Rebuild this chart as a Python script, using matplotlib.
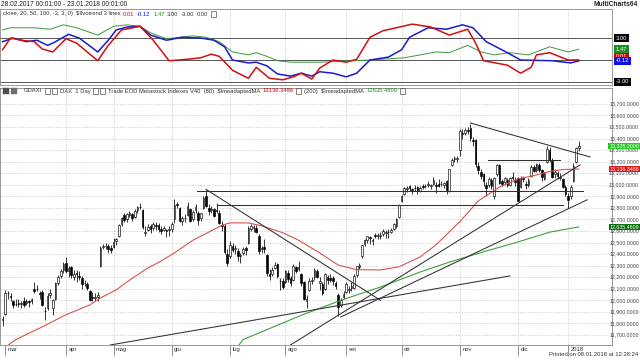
import matplotlib
matplotlib.use("Agg")
import matplotlib.pyplot as plt
import matplotlib.transforms as mtransforms
from matplotlib.patches import Rectangle

# ---------------- price data (daily bars, index 0 = 28.02.2017) ----------------
opens = [11830,
    11880, 12060, 12040, 11990, 11970, 11975, 11970, 11990, 11980, 11990, 11990, 12100,
    12100, 12060, 12070, 11910, 11930, 12050, 11930, 12010, 12150, 12210, 12260,
    12320, 12250, 12290, 12200, 12240, 12210, 12190, 12150, 12140, 12080, 12030, 12020,
    12030, 12300, 12460, 12470, 12470, 12450,
    12460, 12510, 12560, 12660, 12740, 12700, 12740, 12750, 12720, 12780, 12810, 12780,
    12580, 12610, 12640, 12630, 12650, 12650, 12620, 12610, 12610, 12610,
    12620, 12700, 12830, 12800, 12690, 12710, 12740, 12790, 12700, 12780, 12760, 12710,
    12800, 12900, 12800, 12780, 12790, 12780, 12760, 12650, 12640, 12400,
    12380, 12470, 12440, 12430, 12380, 12410, 12450, 12500, 12620, 12630, 12630, 12560,
    12440, 12460, 12390, 12230, 12230, 12280, 12310, 12170, 12170,
    12160, 12240, 12190, 12180, 12290, 12270, 12230, 12160, 11990, 12090, 12170, 12200,
    12250, 12150, 12140, 12100, 12200, 12190, 12190, 12150, 12050, 11960, 12030,
    12070, 12090, 12110, 12110, 12220, 12290, 12380, 12490, 12520, 12550, 12510, 12560,
    12560, 12560, 12570, 12580, 12590, 12590, 12620, 12640, 12720,
    12860, 12920, 12960, 12990, 12960, 12970, 12980, 12950, 12990, 12990, 13000, 12990,
    13010, 13000, 13010, 13010, 13000, 13030, 12950, 13170, 13220, 13220,
    13300, 13450, 13450, 13470, 13490, 13390, 13390, 13160, 13110, 13090, 13000, 13000,
    13040, 12900, 13090, 13170, 13030, 13020, 13040, 13000, 13070, 13040,
    13060, 12980, 13060, 13010, 13000, 13080, 13150, 13130, 13170, 13130, 13050, 13200,
    13300, 13210, 13090, 13100, 13060, 13050, 12980,
    12900, 12900, 13030, 13200, 13320]
highs = [11860,
    12090, 12080, 12060, 12000, 12010, 12010, 11990, 12030, 12010, 12000, 12020, 12160,
    12130, 12080, 12090, 11940, 12060, 12100, 12010, 12160, 12220, 12270, 12330,
    12375, 12300, 12300, 12260, 12260, 12250, 12210, 12180, 12160, 12090, 12070, 12060,
    12070, 12470, 12490, 12500, 12490, 12480,
    12540, 12540, 12660, 12720, 12760, 12760, 12770, 12760, 12790, 12820, 12841, 12790,
    12640, 12660, 12660, 12680, 12680, 12670, 12640, 12640, 12620, 12640,
    12680, 12880, 12850, 12810, 12730, 12750, 12850, 12800, 12780, 12830, 12770, 12760,
    12900, 12951, 12830, 12820, 12800, 12840, 12780, 12690, 12660, 12440,
    12510, 12500, 12480, 12450, 12410, 12460, 12470, 12640, 12660, 12650, 12650, 12570,
    12470, 12530, 12400, 12270, 12290, 12330, 12320, 12190, 12190,
    12260, 12260, 12210, 12310, 12300, 12340, 12240, 12170, 12050, 12190, 12200, 12280,
    12270, 12200, 12160, 12240, 12220, 12230, 12210, 12170, 12060, 12020, 12080,
    12160, 12120, 12160, 12230, 12300, 12320, 12480, 12530, 12560, 12560, 12540, 12580,
    12580, 12590, 12620, 12610, 12620, 12630, 12670, 12710, 12830,
    12910, 12980, 12990, 13000, 12970, 13000, 12990, 12990, 13010, 13010, 13030, 13010,
    13070, 13020, 13050, 13030, 13020, 13040, 13140, 13230, 13250, 13250,
    13480, 13480, 13490, 13500, 13526, 13410, 13400, 13200, 13140, 13100, 13020, 13070,
    13060, 13070, 13180, 13180, 13050, 13070, 13060, 13070, 13110, 13070,
    13070, 13080, 13080, 13030, 13060, 13170, 13170, 13190, 13190, 13140, 13110, 13340,
    13330, 13230, 13140, 13120, 13100, 13060, 13000,
    12930, 13000, 13190, 13330, 13380]
lows = [11780,
    11870, 12010, 11990, 11930, 11950, 11940, 11930, 11940, 11960, 11940, 11970, 12060,
    12080, 12010, 11950, 11830, 11920, 12020, 11870, 12000, 12130, 12190, 12240,
    12240, 12200, 12190, 12180, 12160, 12180, 12100, 12120, 12090, 11990, 11990, 11990,
    11990, 12290, 12440, 12440, 12410, 12410,
    12450, 12480, 12550, 12640, 12680, 12680, 12720, 12690, 12710, 12760, 12790, 12620,
    12560, 12600, 12580, 12610, 12610, 12590, 12570, 12600, 12550, 12560,
    12590, 12670, 12800, 12680, 12650, 12680, 12730, 12680, 12690, 12760, 12650, 12690,
    12790, 12810, 12740, 12760, 12720, 12760, 12660, 12600, 12400, 12300,
    12370, 12420, 12400, 12340, 12320, 12390, 12390, 12490, 12600, 12590, 12580, 12400,
    12410, 12410, 12210, 12180, 12210, 12270, 12190, 12090, 12100,
    12150, 12160, 12120, 12170, 12240, 12250, 12120, 12000, 11930, 12080, 12140, 12180,
    12190, 12090, 12050, 12090, 12140, 12160, 12130, 12100, 11868, 11940, 12010,
    12060, 12060, 12080, 12100, 12200, 12270, 12370, 12470, 12500, 12490, 12480, 12540,
    12530, 12530, 12560, 12540, 12540, 12580, 12610, 12630, 12710,
    12850, 12910, 12940, 12950, 12920, 12950, 12920, 12940, 12960, 12970, 12980, 12960,
    13000, 12930, 12980, 12990, 12970, 12920, 12940, 13160, 13200, 13200,
    13250, 13400, 13430, 13440, 13380, 13340, 13150, 13090, 13050, 12990, 12900, 12980,
    12960, 12880, 13080, 13010, 12990, 13000, 12980, 12990, 13040, 12990,
    12860, 12970, 13020, 12960, 12980, 13070, 13110, 13110, 13110, 13030, 13040, 13190,
    13200, 13060, 13060, 13050, 13040, 12970, 12900,
    12800, 12880, 13020, 13190, 13290]
closes = [11834,
    12067, 12060, 12027, 11958, 11967, 11967, 11978, 11963, 11990, 11988, 12009, 12083,
    12095, 12052, 11962, 11904, 12040, 12064, 12000, 12149, 12203, 12256, 12313,
    12257, 12282, 12217, 12230, 12225, 12200, 12139, 12154, 12109, 12000, 12017, 12027,
    12048, 12455, 12467, 12472, 12443, 12438,
    12507, 12527, 12648, 12716, 12694, 12749, 12757, 12711, 12770, 12807, 12804, 12631,
    12590, 12638, 12619, 12659, 12642, 12621, 12602, 12628, 12599, 12615,
    12664, 12822, 12822, 12690, 12713, 12714, 12815, 12690, 12765, 12806, 12691, 12752,
    12889, 12814, 12774, 12794, 12733, 12770, 12671, 12647, 12416, 12325,
    12475, 12437, 12453, 12381, 12389, 12445, 12437, 12626, 12641, 12632, 12587, 12430,
    12452, 12447, 12240, 12208, 12263, 12305, 12212, 12163, 12118,
    12251, 12181, 12154, 12297, 12257, 12292, 12154, 12014, 12014, 12165, 12177, 12263,
    12203, 12165, 12065, 12229, 12174, 12180, 12167, 12123, 11945, 12002, 12055,
    12142, 12102, 12123, 12214, 12296, 12303, 12475, 12524, 12553, 12540, 12518, 12559,
    12561, 12569, 12600, 12592, 12594, 12605, 12657, 12704, 12828,
    12902, 12970, 12970, 12968, 12955, 12976, 12949, 12970, 12982, 12991, 13003, 12995,
    13043, 12990, 12991, 13003, 13013, 12953, 13133, 13217, 13229, 13229,
    13465, 13440, 13478, 13468, 13406, 13382, 13182, 13127, 13074, 13033, 12976, 13047,
    12993, 13058, 13168, 13015, 13008, 13060, 13000, 13060, 13061, 13024,
    12861, 13058, 13048, 12999, 13045, 13154, 13123, 13183, 13126, 13068, 13103, 13312,
    13215, 13070, 13110, 13072, 13070, 12980, 12918,
    12871, 12979, 13167, 13319, 13335.2]

# moving averages (bar index, value)
ma_red_bars = [2, 5, 15, 24, 33, 37, 43, 49, 55, 60, 65, 72, 78, 83, 86, 93, 98, 106,
               112, 120, 127, 134, 143, 150, 158, 164, 173, 180, 188, 195, 202, 207, 212, 218]
ma_red_vals = [11610, 11660, 11770, 11875, 11960, 12020, 12090, 12190, 12280, 12340, 12410,
               12520, 12590, 12650, 12670, 12670, 12645, 12585, 12520, 12410, 12305, 12265,
               12263, 12290, 12375, 12480, 12680, 12860, 12980, 13050, 13085, 13115, 13132,
               13136.3486]
ma_green_bars = [89, 91, 113, 128, 143, 158, 169, 182, 195, 207, 218]
ma_green_vals = [11600, 11660, 11870, 12000, 12115, 12245, 12330, 12420, 12505, 12590,
                 12635.4809]

# drawn trendlines (bar, price) pairs
trend_lines = [
    ((77, 12960), (143, 12000)),
    ((73.5, 12942), (219.5, 12942)),
    ((81, 12826), (212, 12826)),
    ((183.7, 13215), (211, 13215)),
    ((177, 13535), (222.3, 13241)),
    ((108, 11600), (218.5, 13172)),
    ((128, 11856), (221.2, 12870)),
    ((40.7, 11613), (192, 12211)),
]

# oscillator ($Ilvotrend 3 lines)
osc_red_bars = [0, 3, 7, 12, 15, 19, 24, 28, 36, 40, 45, 52, 57, 63, 70, 75, 79, 82, 87, 93,
                96, 101, 106, 110, 113, 117, 120, 125, 130, 134, 139, 144, 149, 155, 162, 169,
                176, 179, 182, 191, 196, 200, 202, 207, 214, 218]
osc_red_vals = [1.4, 3.0, 2.7, 2.5, 1.5, 1.1, 2.9, 2.3, -0.1, 2.0, 4.1, 4.6, 2.7, -0.1, 0.1,
                0.3, 0.8, 0.5, -1.4, -2.5, -1.0, -2.5, -2.7, -2.3, -1.8, -2.6, -1.1, 0.0, -0.3,
                0.1, 3.1, 4.0, 4.4, 4.9, 4.5, 3.4, 4.2, 2.3, -0.1, -0.7, -1.8, -1.0, 0.7, 1.0,
                0.0, 0.01]
osc_blue_bars = [0, 4, 9, 13, 17, 19, 25, 29, 36, 40, 43, 47, 52, 56, 62, 68, 75, 80, 84, 87,
                 93, 96, 100, 104, 109, 113, 117, 120, 125, 130, 134, 139, 146, 151, 154, 161,
                 168, 174, 178, 183, 191, 196, 208, 215, 218]
osc_blue_vals = [2.5, 3.0, 2.5, 2.7, 2.0, 2.3, 3.5, 3.0, 1.1, 2.7, 4.1, 4.5, 4.6, 3.4, 2.7,
                 3.1, 3.0, 2.7, 1.8, 0.0, -0.4, -0.3, -0.8, -1.9, -2.2, -1.8, -2.2, -1.6, -1.8,
                 -2.3, -1.8, 0.0, 0.4, 1.4, 3.1, 4.4, 4.2, 4.8, 4.4, 2.5, 1.0, 0.0, -0.1, -0.4,
                 -0.12]
osc_green_bars = [0, 3, 12, 18, 23, 28, 36, 42, 47, 52, 56, 62, 67, 72, 77, 82, 87, 93, 96,
                  100, 104, 109, 120, 139, 152, 164, 169, 176, 181, 186, 192, 199, 207, 214, 218]
osc_green_vals = [4.1, 4.4, 4.4, 4.2, 4.8, 4.4, 3.4, 4.6, 4.8, 4.6, 3.7, 2.9, 3.1, 3.3, 3.1,
                  2.5, 1.1, 0.7, 1.0, 0.5, -0.1, -0.3, -0.3, 0.0, 0.3, 1.1, 1.0, 2.0, 1.1, 0.7,
                  1.0, 0.7, 1.8, 1.1, 1.47]
osc_levels = [3.0, 0.0, -3.0]

month_bars = [1, 24, 42, 64, 86, 107, 130, 151, 173, 195, 214]
month_labels = ["mar", "apr", "mag", "giu", "lug", "ago", "set", "ott", "nov", "dic", "2018"]
price_ticks = list(range(11700, 13701, 100))

# ---------------- layout ----------------
W, H = 640, 360
fig = plt.figure(figsize=(6.4, 3.6), dpi=100)
fig.patch.set_facecolor("white")
FAM = ["Liberation Sans Narrow", "Liberation Sans", "DejaVu Sans"]
plt.rcParams["font.family"] = FAM
PIX = mtransforms.IdentityTransform()
renderer = fig.canvas.get_renderer()


def fy(py):
    return 1 - py / H


def seq_text(x_px, y_px, pieces, fs, gap=2.5):
    """Write text pieces one after another on a line (pixel coords from top-left)."""
    x = x_px
    for s, c in pieces:
        if s == "[x]":
            fig.patches.append(Rectangle((x, H - y_px - 3), 5, 6, transform=PIX, fill=False,
                                         ec="#555555", lw=0.5, figure=fig))
            x += 5 + gap
            continue
        t = fig.text(x, H - y_px, s, transform=PIX, fontsize=fs, color=c, va="center", ha="left")
        bb = t.get_window_extent(renderer=renderer)
        x = bb.x1 + gap
    return x


PR = 612
ax_osc = fig.add_axes([0, fy(85), PR / W, (85 - 9) / H])
ax = fig.add_axes([0, fy(345), PR / W, (345 - 88) / H])
XL = (-0.98, 230.6)
FS = 4.2
FSR = 3.8
GRID = "#c4c4c4"

# ---------- oscillator panel ----------
ax_osc.set_xlim(*XL)
ax_osc.set_ylim(-3.41, 6.96)
for b in month_bars[1:]:
    ax_osc.axvline(b, color=GRID, lw=0.5, ls=(0, (2, 2)), zorder=0)
for lv in osc_levels:
    ax_osc.axhline(lv, color="#555555", lw=0.7, zorder=1)
ax_osc.plot(osc_green_bars, osc_green_vals, color="#3a9a3a", lw=0.7, zorder=3)
ax_osc.plot(osc_blue_bars, osc_blue_vals, color="#1a1ad0", lw=1.1, zorder=4)
ax_osc.plot(osc_red_bars, osc_red_vals, color="#d01010", lw=1.1, zorder=5)
ax_osc.set_xticks([])
ax_osc.set_yticks([])
for s in ax_osc.spines.values():
    s.set_color("#888888")
    s.set_linewidth(0.6)

tro = mtransforms.blended_transform_factory(ax_osc.transAxes, ax_osc.transData)
osc_labels = [(3.0, "3.00", "black"), (1.47, "1.47", "#1e8c1e"),
              (0.45, "0.01", "#dd0000"), (-0.12, "-0.12", "#1010e0"), (-3.0, "-3.00", "black")]
for v, t, c in osc_labels:
    ax_osc.text(1.006, v, t, transform=tro, fontsize=FS, color="white", va="center",
                ha="left", clip_on=False,
                bbox=dict(boxstyle="square,pad=0.25", fc=c, ec=c, lw=0))

seq_text(3, 14, [("close, 20, 50, 100, -3, 3, 0)  $Ilvotrend 3 lines", "#333333"),
                 ("0.01", "#dd0000"), ("-0.12", "#1010e0"), ("1.47", "#1e8c1e"),
                 ("3.00", "#333333"), ("-3.00", "#333333"), ("0.00", "#333333"),
                 ("[x]", "#333333")], FS)

# ---------- main panel ----------
ax.set_xlim(*XL)
ax.set_ylim(11613, 13838)
for p in price_ticks:
    ax.axhline(p, color=GRID, lw=0.5, ls=(0, (2, 2)), zorder=0)
for b in month_bars[1:]:
    ax.axvline(b, color=GRID, lw=0.5, ls=(0, (2, 2)), zorder=0)

bw = 0.62
for i in range(len(closes)):
    o, h, l, c = opens[i], highs[i], lows[i], closes[i]
    ax.plot([i, i], [l, h], color="black", lw=0.55, zorder=3, solid_capstyle="butt")
    lo, hi = min(o, c), max(o, c)
    fc = "white" if c >= o else "black"
    ax.add_patch(Rectangle((i - bw / 2, lo), bw, max(hi - lo, 3), facecolor=fc,
                           edgecolor="black", lw=0.45, zorder=4))

ax.plot(ma_red_bars, ma_red_vals, color="#d9534f", lw=0.8, zorder=5)
ax.plot(ma_green_bars, ma_green_vals, color="#3f9f3f", lw=0.8, zorder=5)
for (x0, y0), (x1, y1) in trend_lines:
    ax.plot([x0, x1], [y0, y1], color="#303030", lw=0.75, zorder=6)

ax.set_yticks([])
ax.set_xticks(month_bars)
ax.set_xticklabels([])
ax.tick_params(axis="x", direction="out", length=8, width=0.5, color="#666666")
for s in ax.spines.values():
    s.set_color("#888888")
    s.set_linewidth(0.6)

trm = mtransforms.blended_transform_factory(fig.transFigure, ax.transData)
XR = 639.0 / W
for p in price_ticks:
    ax.text(XR, p, f"{p:,.4f}", transform=trm, fontsize=FSR, color="#444444",
            va="center", ha="right", clip_on=False)
right_boxes = [(closes[-1], "#22cc22"), (ma_red_vals[-1], "#e01818"), (ma_green_vals[-1], "#0a700a")]
for v, c in right_boxes:
    ax.text(XR, v, f"{v:,.4f}", transform=trm, fontsize=FSR, color="white", va="center",
            ha="right", clip_on=False, zorder=10,
            bbox=dict(boxstyle="square,pad=0.15", fc=c, ec=c, lw=0))

trx = mtransforms.blended_transform_factory(ax.transData, ax.transAxes)
for b, lab in zip(month_bars, month_labels):
    ax.text(b + 0.9, -0.008, lab, transform=trx, fontsize=FS, va="top", ha="left", color="#333333")

# header icons of the main panel
for x0, col in [(3, "#505050"), (11, "#707070")]:
    fig.patches.append(Rectangle((x0, H - 94), 6, 6, transform=PIX, fc=col, ec=col,
                                 lw=0.3, figure=fig))
seq_text(24, 91, [("GDAXI", "#333333"), ("[x]", "#333333"), ("[x]", "#333333"),
                  ("DAX  1 Day", "#333333"), ("[x]", "#333333"), ("[x]", "#333333"),
                  ("Trade EOD Metastock Indexes V40  (80)  $ImeadaptedMA", "#333333"),
                  (f"{ma_red_vals[-1]:.4f}", "#dd0000"), ("[x]", "#333333"),
                  ("(200)  $ImeadaptedMA", "#333333"),
                  (f"{ma_green_vals[-1]:.4f}", "#1e8c1e"), ("[x]", "#333333")], FS)

fig.text(1, H - 5, "28.02.2017 00:01:00 - 23.01.2018 00:01:00", transform=PIX, fontsize=4.8,
         va="center", ha="left", color="#222222")
fig.text(W - 2, H - 5, "MultiCharts64", transform=PIX, fontsize=4.8, va="center", ha="right",
         color="#222222", fontweight="bold")
fig.text(W - 2, H - 355, "Printed on 08.01.2018 at 12:28:24", transform=PIX, fontsize=FS,
         va="center", ha="right", color="#333333")

fig.savefig("out.png", dpi=100, facecolor="white")
